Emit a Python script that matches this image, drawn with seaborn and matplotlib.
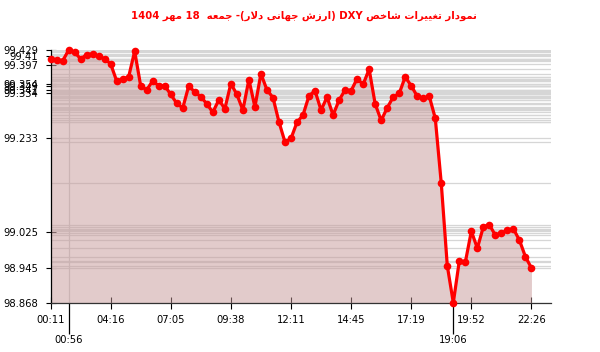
import re
import numpy as np
import pandas as pd
import matplotlib
matplotlib.use("Agg")
import matplotlib.pyplot as plt
import seaborn as sns

# ---------------- data ----------------
values = [99.410, 99.407, 99.405, 99.429, 99.425, 99.410, 99.419, 99.421, 99.416, 99.410,
          99.399, 99.361, 99.365, 99.370, 99.427, 99.350, 99.341, 99.361, 99.350, 99.350,
          99.331, 99.311, 99.301, 99.350, 99.336, 99.326, 99.310, 99.291, 99.319, 99.299,
          99.355, 99.331, 99.296, 99.364, 99.303, 99.377, 99.341, 99.324, 99.270, 99.225,
          99.233, 99.269, 99.285, 99.328, 99.339, 99.296, 99.325, 99.285, 99.318, 99.341,
          99.339, 99.366, 99.353, 99.387, 99.310, 99.273, 99.301, 99.325, 99.333, 99.370,
          99.350, 99.327, 99.322, 99.327, 99.278, 99.133, 98.950, 98.868, 98.961, 98.958,
          99.027, 98.989, 99.037, 99.041, 99.018, 99.023, 99.029, 99.032, 99.007, 98.970,
          98.945]
xtick_pos = [0, 10, 20, 30, 40, 50, 60, 70, 80]
xtick_labels = ["00:11", "04:16", "07:05", "09:38", "12:11", "14:45", "17:19", "19:52", "22:26"]
xextra_pos = [3, 67]
xextra_labels = ["00:56", "19:06"]
ytick_vals = [98.868, 98.945, 99.025, 99.233, 99.334, 99.341, 99.349, 99.354, 99.397, 99.417, 99.429]
ytick_labels = ["98.868", "98.945", "99.025", "99.233", "99.334", "99.341", "99.349", "99.354",
                "99.397", "99.41", "99.429"]
title_text = "نمودار تغییرات شاخص DXY (ارزش جهانی دلار)- جمعه  18 مهر 1404"

# ---------------- arabic shaping for matplotlib ----------------
FORMS = {
    'ا': ('\uFE8D', '\uFE8E', None, None),
    'د': ('\uFEA9', '\uFEAA', None, None),
    'ر': ('\uFEAD', '\uFEAE', None, None),
    'ز': ('\uFEAF', '\uFEB0', None, None),
    'و': ('\uFEED', '\uFEEE', None, None),
    'ت': ('\uFE95', '\uFE96', '\uFE97', '\uFE98'),
    'ن': ('\uFEE5', '\uFEE6', '\uFEE7', '\uFEE8'),
    'م': ('\uFEE1', '\uFEE2', '\uFEE3', '\uFEE4'),
    'غ': ('\uFECD', '\uFECE', '\uFECF', '\uFED0'),
    'ی': ('\uFBFC', '\uFBFD', '\uFBFE', '\uFBFF'),
    'ش': ('\uFEB5', '\uFEB6', '\uFEB7', '\uFEB8'),
    'خ': ('\uFEA5', '\uFEA6', '\uFEA7', '\uFEA8'),
    'ص': ('\uFEB9', '\uFEBA', '\uFEBB', '\uFEBC'),
    'ج': ('\uFE9D', '\uFE9E', '\uFE9F', '\uFEA0'),
    'ه': ('\uFEE9', '\uFEEA', '\uFEEB', '\uFEEC'),
    'ل': ('\uFEDD', '\uFEDE', '\uFEDF', '\uFEE0'),
    'ع': ('\uFEC9', '\uFECA', '\uFECB', '\uFECC'),
}


def shape_rtl(text):
    ch = list(text)
    n = len(ch)
    out = []
    i = 0
    while i < n:
        c = ch[i]
        if c not in FORMS:
            out.append(c)
            i += 1
            continue
        prev = ch[i - 1] if i > 0 else None
        jp = prev in FORMS and FORMS[prev][2] is not None
        if c == 'ل' and i + 1 < n and ch[i + 1] == 'ا':
            out.append('\uFEFC' if jp else '\uFEFB')
            i += 2
            continue
        nxt = ch[i + 1] if i + 1 < n else None
        jn = FORMS[c][2] is not None and nxt in FORMS
        iso, fin, ini, med = FORMS[c]
        if jp and jn:
            out.append(med)
        elif jp:
            out.append(fin)
        elif jn:
            out.append(ini)
        else:
            out.append(iso)
        i += 1
    vis = ''.join(reversed(out))
    vis = re.sub(r'[A-Za-z0-9.:]+', lambda m: m.group(0)[::-1], vis)
    vis = vis.translate(str.maketrans('()', ')('))
    return vis


# ---------------- plot ----------------
sns.set_style("white")
plt.rcParams['font.family'] = ['DejaVu Sans']

df = pd.DataFrame({"idx": np.arange(len(values)), "value": values})

fig = plt.figure(figsize=(6.0, 3.52), dpi=100)
ax = fig.add_axes([50.5 / 600, 1 - 302.7 / 352, 500.2 / 600, (302.7 - 50.3) / 352])

ymin, ymax = 98.868, 99.429
ax.set_xlim(0, 83.2)
ax.set_ylim(ymin, ymax)

# horizontal lines at every value
for v in values:
    ax.axhline(v, color="#d6d6d6", lw=0.9, zorder=1)
ax.axvline(xextra_pos[0], color="#d0d0d0", lw=0.9, zorder=1)

ax.fill_between(df["idx"], df["value"], ymin, color=(0.78, 0.60, 0.60), alpha=0.5,
                lw=0, zorder=2)

sns.lineplot(data=df, x="idx", y="value", ax=ax, color="#ff0000", lw=2.3,
             marker="o", markersize=5.5, markeredgewidth=0, zorder=4, clip_on=False)

ax.set_xlabel("")
ax.set_ylabel("")

for s in ["top", "right"]:
    ax.spines[s].set_visible(False)
ax.spines["left"].set_color("#000000")
ax.spines["bottom"].set_color("#333333")
ax.spines["left"].set_linewidth(0.9)
ax.spines["bottom"].set_linewidth(0.9)

ax.set_yticks(ytick_vals)
ax.set_yticklabels(ytick_labels)
ax.set_xticks(xtick_pos)
ax.set_xticklabels(xtick_labels)
ax.set_xticks(xextra_pos, minor=True)
ax.set_xticklabels(xextra_labels, minor=True)

ax.tick_params(axis="y", which="major", direction="inout", length=7.5, width=0.8,
               color="#000000", labelsize=7.2, pad=5, labelcolor="#000000", left=True)
ax.tick_params(axis="x", which="major", direction="inout", length=8, width=0.8,
               color="#000000", labelsize=7.2, pad=5, labelcolor="#000000", bottom=True)
ax.tick_params(axis="x", which="minor", direction="out", length=22, width=0.9,
               color="#000000", labelsize=7.2, pad=1.5, labelcolor="#000000", bottom=True)
mt = ax.xaxis.get_minor_ticks()
mt[0].tick1line.set_color("#d0d0d0")

fig.text(304 / 600, 1 - 16 / 352, shape_rtl(title_text), color="#ff0000",
         fontsize=7.3, fontweight="bold", ha="center", va="center")

fig.savefig("out.png", dpi=100)
